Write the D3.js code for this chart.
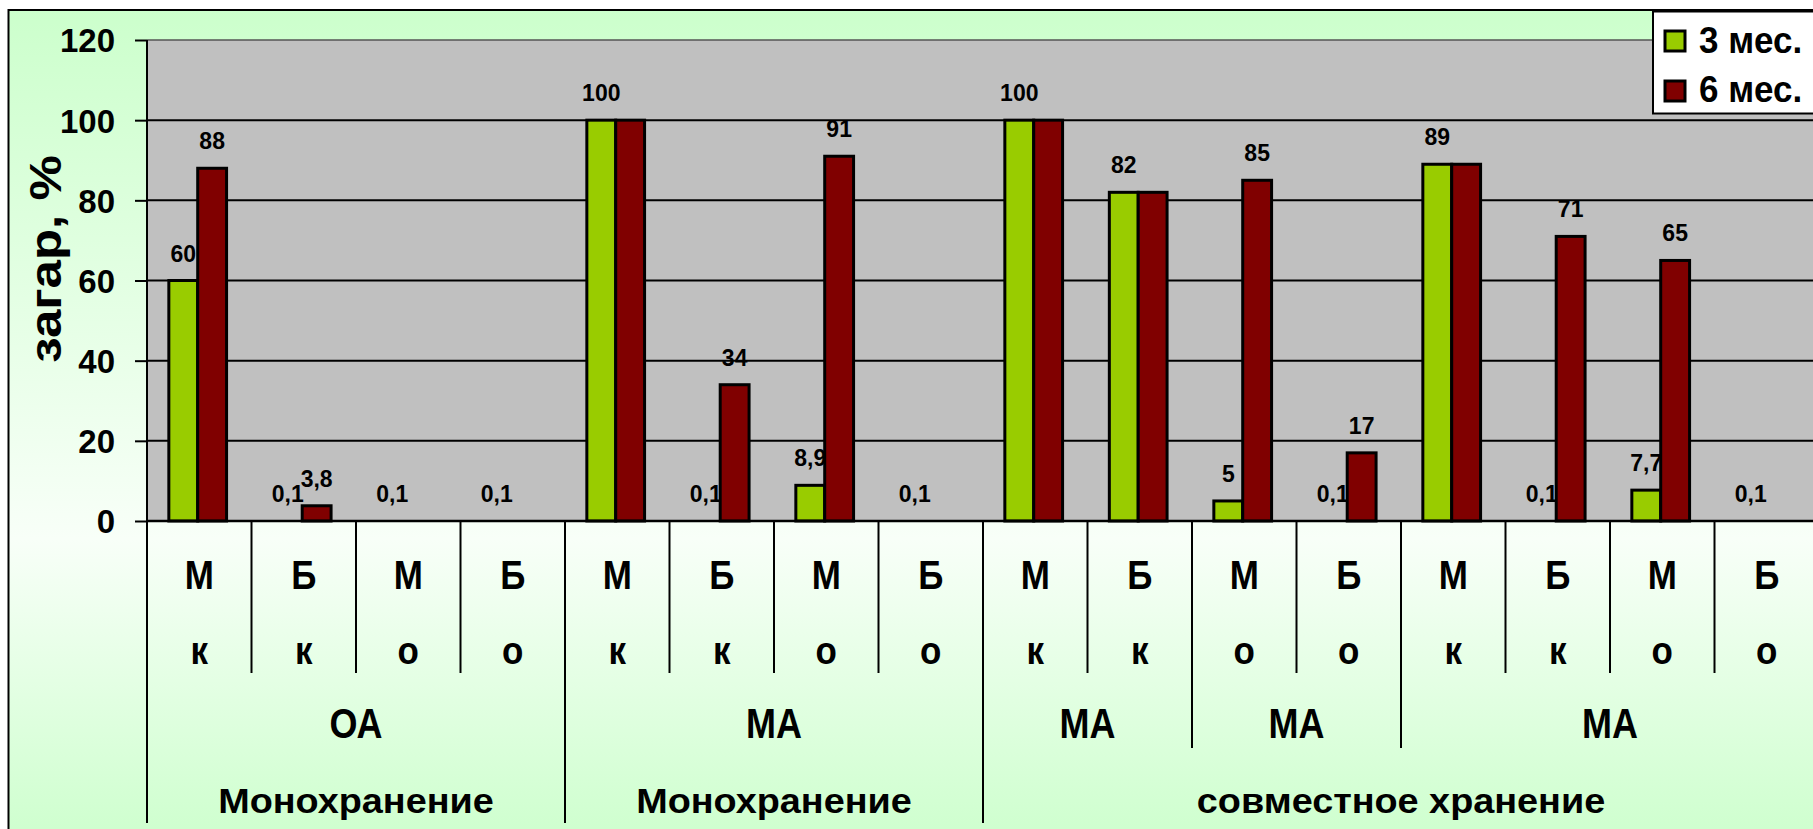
<!DOCTYPE html>
<html><head><meta charset="utf-8">
<script src="https://cdn.jsdelivr.net/npm/d3@7"></script>
<style>
html,body{margin:0;padding:0;background:#fff;overflow:hidden;}
text{font-family:"Liberation Sans",Arial,sans-serif;font-weight:bold;fill:#000;}
</style></head>
<body>
<svg id="chart" width="1813" height="829"></svg>
<script>
// ---- data ----
const catLine1 = ["М","Б","М","Б","М","Б","М","Б","М","Б","М","Б","М","Б","М","Б"];
const catLine2 = ["к","к","о","о","к","к","о","о","к","к","о","о","к","к","о","о"];
const level2Labels = ["ОА","МА","МА","МА","МА"];
const level2Spans = [4,4,2,2,4];
const level3Labels = ["Монохранение","Монохранение","совместное хранение"];
const level3Spans = [4,4,8];
const seriesNames = ["3 мес.","6 мес."];
const values3 = [60,0.1,0.1,0.1,100,0.1,8.9,0.1,100,82,5,0.1,89,0.1,7.7,0.1];
const values6 = [88,3.8,null,null,100,34,91,null,100,82,85,17,89,71,65,null];
const yTicks = [0,20,40,60,80,100,120];
const colors = ["#99cc00","#800000"];

const svg = d3.select("#chart");
const plot = {left:147, right:1819, top:40, bottom:521};

// background gradient
const defs = svg.append("defs");
const g = defs.append("linearGradient").attr("id","bg").attr("x1",0).attr("y1",0).attr("x2",0).attr("y2",1);
g.append("stop").attr("offset","0%").attr("stop-color","#ccffcc");
g.append("stop").attr("offset","63%").attr("stop-color","#f8fff8");
g.append("stop").attr("offset","100%").attr("stop-color","#ccffcc");
svg.append("rect").attr("x",8.5).attr("y",10).attr("width",1840).attr("height",840)
  .attr("fill","url(#bg)").attr("stroke","#000").attr("stroke-width",2);

const n = catLine1.length;
const x0 = d3.scaleBand().domain(d3.range(n)).range([plot.left, plot.right]).padding(0);
const x1 = d3.scaleBand().domain([0,1]).range([0, x0.bandwidth()]).paddingInner(0).paddingOuter(0.81).align(0.467);
const y = d3.scaleLinear().domain([0,120]).range([plot.bottom, plot.top]);

// plot area
svg.append("rect").attr("x",plot.left).attr("y",plot.top).attr("width",plot.right-plot.left).attr("height",plot.bottom-plot.top).attr("fill","#c0c0c0");
svg.append("line").attr("x1",plot.left).attr("x2",plot.right).attr("y1",y(120)).attr("y2",y(120)).attr("stroke","#555").attr("stroke-width",1.5);
// gridlines
svg.append("g").selectAll("line").data(yTicks.filter(t=>t>0 && t<120)).join("line")
  .attr("x1",plot.left).attr("x2",plot.right).attr("y1",d=>y(d)).attr("y2",d=>y(d))
  .attr("stroke","#000").attr("stroke-width",2);

// y axis
const yAxis = d3.axisLeft(y).tickValues(yTicks).tickSize(12).tickPadding(20).tickFormat(d3.format("d"));
const ya = svg.append("g").attr("transform",`translate(${plot.left},0)`).call(yAxis);
ya.select(".domain").remove();
ya.selectAll(".tick line").attr("stroke","#000").attr("stroke-width",2);
ya.selectAll(".tick text").attr("font-size",33).attr("font-family",null).attr("dy","0.36em");

// y title
svg.append("text").attr("transform","translate(61,259) rotate(-90) scale(1.16,1)")
  .attr("text-anchor","middle").attr("font-size",44).text("загар, %");

// bars: series 1, labels 1, series 2, labels 2
const fmt = v => String(v).replace(".", ",");
function drawSeries(vals, s){
  const data = vals.map((v,i)=>({v,i})).filter(d=>d.v!==null);
  svg.append("g").selectAll("rect").data(data).join("rect")
    .attr("x",d=>x0(d.i)+x1(s)).attr("width",x1.bandwidth())
    .attr("y",d=>y(d.v)).attr("height",d=>y(0)-y(d.v))
    .attr("fill",colors[s]).attr("stroke",d=>(y(0)-y(d.v))>2?"#000":"none").attr("stroke-width",3);
}
function drawLabels(vals, s, show){
  const data = vals.map((v,i)=>({v,i})).filter(d=>d.v!==null && show(d));
  svg.append("g").selectAll("text").data(data).join("text")
    .attr("transform",d=>`translate(${x0(d.i)+x1(s)+x1.bandwidth()/2},${y(d.v)-19}) scale(1,1.08)`)
    .attr("text-anchor","middle").attr("font-size",23).text(d=>fmt(d.v));
}
drawSeries(values3,0);
drawLabels(values3,0,()=>true);
drawSeries(values6,1);
drawLabels(values6,1,d=>d.v!==values3[d.i]);

// x axis line
svg.append("line").attr("x1",plot.left).attr("x2",plot.right).attr("y1",plot.bottom).attr("y2",plot.bottom).attr("stroke","#000").attr("stroke-width",2.5);
// left axis line extends down
svg.append("line").attr("x1",plot.left).attr("x2",plot.left).attr("y1",plot.top).attr("y2",823).attr("stroke","#000").attr("stroke-width",2);

// category labels
const step = x0.step();
const cx = i => x0(i)+step/2;
svg.append("g").selectAll("text").data(catLine1).join("text")
  .attr("transform",(d,i)=>`translate(${cx(i)},589) scale(1,1.18)`).attr("text-anchor","middle").attr("font-size",35).text(d=>d);
svg.append("g").selectAll("text").data(catLine2).join("text")
  .attr("transform",(d,i)=>`translate(${cx(i)},664) scale(1,1.12)`).attr("text-anchor","middle").attr("font-size",35).text(d=>d);

// dividers
const l2Ends = d3.cumsum(level2Spans);
const l3Ends = d3.cumsum(level3Spans);
const divs = d3.range(1,n+1).map(k=>{
  let bottom = 673;
  if (l2Ends.includes(k)) bottom = 748;
  if (l3Ends.includes(k)) bottom = 823;
  return {k,bottom};
});
svg.append("g").selectAll("line").data(divs).join("line")
  .attr("x1",d=>x0.range()[0]+d.k*step).attr("x2",d=>x0.range()[0]+d.k*step)
  .attr("y1",plot.bottom).attr("y2",d=>d.bottom).attr("stroke","#000").attr("stroke-width",2);

// level 2 labels
let start=0;
const l2 = level2Labels.map((lab,j)=>{const s=start; start+=level2Spans[j]; return {lab, c:x0.range()[0]+(s+level2Spans[j]/2)*step};});
svg.append("g").selectAll("text").data(l2).join("text")
  .attr("transform",d=>`translate(${d.c},738) scale(1,1.18)`).attr("text-anchor","middle").attr("font-size",36).text(d=>d.lab);
start=0;
const l3 = level3Labels.map((lab,j)=>{const s=start; start+=level3Spans[j]; return {lab, c:x0.range()[0]+(s+level3Spans[j]/2)*step};});
svg.append("g").selectAll("text").data(l3).join("text")
  .attr("transform",d=>`translate(${d.c},813) scale(1.2,1.1)`)
  .attr("text-anchor","middle").attr("font-size",31.5).text(d=>d.lab);

// legend
const lg = svg.append("g");
lg.append("rect").attr("x",1653).attr("y",11.5).attr("width",200).attr("height",102).attr("fill","#fff").attr("stroke","#000").attr("stroke-width",2);
seriesNames.forEach((name,i)=>{
  lg.append("rect").attr("x",1665).attr("y",31+i*50).attr("width",20).attr("height",20)
    .attr("fill",colors[i]).attr("stroke","#000").attr("stroke-width",3);
  lg.append("text").attr("transform",`translate(1699,${53+i*49}) scale(1,1.08)`).attr("font-size",35).text(name);
});
</script>
</body></html>
